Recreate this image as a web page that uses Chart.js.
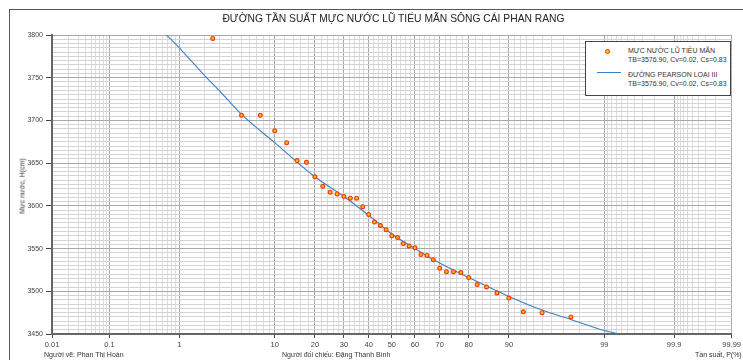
<!DOCTYPE html>
<html>
<head>
<meta charset="utf-8">
<script src="https://cdn.jsdelivr.net/npm/chart.js@4.4.0/dist/chart.umd.min.js"></script>
<style>
  body { margin: 0; background: #fff; font-family: "Liberation Sans", Arial, sans-serif; color: #333; }
  #wrap { position: relative; width: 743px; height: 360px; overflow: hidden; }
  #frame { position: absolute; left: 9px; top: 9px; width: 800px; height: 400px; border: 1px solid #555; }
  #chart { position: absolute; left: 0; top: 0; }
  .txt { position: absolute; white-space: nowrap; }
  #title { left: 0; width: 787px; top: 13px; text-align: center; font-size: 10.3px; color: #222; }
  #ylab { left: 22px; top: 186px; font-size: 7px; transform: translate(-50%, -50%) rotate(-90deg); }
  .foot { top: 351px; font-size: 7px; }
  #legend { position: absolute; left: 585px; top: 41px; width: 144px; height: 53px; border: 1px solid #444; background: #fff; }
  #legend .t { position: absolute; left: 42px; font-size: 7px; line-height: 8.5px; }
  #legend .dot { position: absolute; left: 19px; top: 7px; width: 2.6px; height: 2.6px; border-radius: 50%; background: #ffc000; border: 1.2px solid #f03c10; }
  #legend .ln { position: absolute; left: 11px; top: 30px; width: 24px; height: 1px; background: #3c7fc4; }
</style>
</head>
<body>
<div id="wrap">
  <div id="frame"></div>
  <canvas id="chart" width="743" height="360"></canvas>
  <div class="txt" id="title">ĐƯỜNG TẦN SUẤT MỰC NƯỚC LŨ TIỂU MÃN SÔNG CÁI PHAN RANG</div>
  <div class="txt" id="ylab">Mực nước, H(cm)</div>
  <div class="txt foot" style="left:44px">Người vẽ: Phan Thị Hoàn</div>
  <div class="txt foot" style="left:282px">Người đối chiếu: Đặng Thanh Bình</div>
  <div class="txt foot" style="left:695px">Tần suất, P(%)</div>
  <div id="legend">
    <span class="dot"></span>
    <div class="t" style="top:5px">MỰC NƯỚC LŨ TIỂU MÃN<br>TB=3576.90, Cv=0.02, Cs=0.83</div>
    <span class="ln"></span>
    <div class="t" style="top:29px">ĐƯỜNG PEARSON LOẠI III<br>TB=3576.90, Cv=0.02, Cs=0.83</div>
  </div>
</div>
<script>
// tần suất kinh nghiệm (%) và mực nước thực đo
const obsP = [2.5, 5, 7.5, 10, 12.5, 15, 17.5, 20, 22.5, 25, 27.5, 30, 32.5, 35, 37.5, 40, 42.5, 45, 47.5, 50,
  52.5, 55, 57.5, 60, 62.5, 65, 67.5, 70, 72.5, 75, 77.5, 80, 82.5, 85, 87.5, 90, 92.5, 95, 97.5];
const obsH = [3796, 3706, 3706, 3688, 3674, 3653, 3651, 3634, 3623, 3616, 3614, 3611, 3609, 3609, 3599, 3590, 3581, 3577, 3572, 3565,
  3563, 3556, 3553, 3551, 3543, 3542, 3537, 3527, 3523, 3523, 3522, 3516, 3508, 3505, 3498, 3492, 3476, 3475, 3470];

// đường Pearson III
const curveP = [0.5, 0.7, 1, 2, 3, 5, 10, 20, 30, 40, 50, 60, 70, 80, 90, 95, 97.5, 99, 99.5];
const curveH = [3809, 3799, 3785, 3753, 3734, 3707, 3674, 3634, 3611, 3589, 3567, 3550, 3533, 3516, 3494, 3478, 3467, 3454, 3448];

// lưới giấy xác suất
const majorP = [0.01, 0.1, 1, 10, 20, 30, 40, 50, 60, 70, 80, 90, 99, 99.9, 99.99];
const minorP = [0.02, 0.03, 0.04, 0.05, 0.06, 0.07, 0.08, 0.09,
  0.2, 0.3, 0.4, 0.5, 0.6, 0.7, 0.8, 0.9,
  2, 3, 4, 5, 6, 7, 8, 9,
  12, 14, 16, 18, 22, 24, 26, 28, 32, 34, 36, 38, 42, 44, 46, 48,
  52, 54, 56, 58, 62, 64, 66, 68, 72, 74, 76, 78, 82, 84, 86, 88,
  91, 92, 93, 94, 95, 96, 97, 98,
  99.1, 99.2, 99.3, 99.4, 99.5, 99.6, 99.7, 99.8,
  99.91, 99.92, 99.93, 99.94, 99.95, 99.96, 99.97, 99.98];

// inverse normal (Acklam)
function normInv(p) {
  const a = [-39.69683028665376, 220.9460984245205, -275.9285104469687, 138.3577518672690, -30.66479806614716, 2.506628277459239];
  const b = [-54.47609879822406, 161.5858368580409, -155.6989798598866, 66.80131188771972, -13.28068155288572];
  const c = [-0.007784894002430293, -0.3223964580411365, -2.400758277161838, -2.549732539343734, 4.374664141464968, 2.938163982698783];
  const d = [0.007784695709041462, 0.3224671290700398, 2.445134137142996, 3.754408661907416];
  const pl = 0.02425;
  let q, r;
  if (p < pl) {
    q = Math.sqrt(-2 * Math.log(p));
    return (((((c[0]*q+c[1])*q+c[2])*q+c[3])*q+c[4])*q+c[5]) / ((((d[0]*q+d[1])*q+d[2])*q+d[3])*q+1);
  }
  if (p > 1 - pl) {
    q = Math.sqrt(-2 * Math.log(1 - p));
    return -(((((c[0]*q+c[1])*q+c[2])*q+c[3])*q+c[4])*q+c[5]) / ((((d[0]*q+d[1])*q+d[2])*q+d[3])*q+1);
  }
  q = p - 0.5; r = q * q;
  return (((((a[0]*r+a[1])*r+a[2])*r+a[3])*r+a[4])*r+a[5])*q / (((((b[0]*r+b[1])*r+b[2])*r+b[3])*r+b[4])*r+1);
}
function normCdf(z) {
  const t = 1 / (1 + 0.2316419 * Math.abs(z));
  const y = 0.3989423 * Math.exp(-z * z / 2) * t * (0.3193815 + t * (-0.3565638 + t * (1.781478 + t * (-1.821256 + t * 1.330274))));
  return z > 0 ? 1 - y : y;
}

class ProbabilityScale extends Chart.Scale {
  determineDataLimits() { this.min = 0.01; this.max = 99.99; }
  buildTicks() {
    return majorP.concat(minorP).sort((a, b) => a - b).map(v => ({ value: v, major: majorP.includes(v) }));
  }
  getLabelForValue(v) { return String(v); }
  configure() {
    super.configure();
    this._z0 = normInv(this.min / 100);
    this._z1 = normInv(this.max / 100);
  }
  getPixelForValue(v) {
    return this.getPixelForDecimal((normInv(v / 100) - this._z0) / (this._z1 - this._z0));
  }
  getValueForPixel(px) {
    const dec = this.getDecimalForPixel(px);
    return normCdf(this._z0 + dec * (this._z1 - this._z0)) * 100;
  }
}
ProbabilityScale.id = 'probability';
ProbabilityScale.defaults = {};
Chart.register(ProbabilityScale);

const isMajorX = v => majorP.includes(v);

new Chart(document.getElementById('chart'), {
  type: 'scatter',
  data: {
    datasets: [
      {
        data: obsP.map((p, i) => ({ x: p, y: obsH[i] })),
        pointRadius: 1.9,
        pointBackgroundColor: '#ffc000',
        pointBorderColor: '#f03c10',
        pointBorderWidth: 1.2,
        order: 0
      },
      {
        data: curveP.map((p, i) => ({ x: p, y: curveH[i] })),
        showLine: true,
        borderColor: '#3c7fc4',
        borderWidth: 1.1,
        pointRadius: 0,
        cubicInterpolationMode: 'monotone',
        order: 1
      }
    ]
  },
  options: {
    responsive: false,
    animation: false,
    layout: { padding: { left: 0, right: 8, top: 35, bottom: 0 } },
    plugins: { legend: { display: false }, tooltip: { enabled: false } },
    scales: {
      x: {
        type: 'probability',
        position: 'bottom',
        afterFit: s => { s.height = 26; },
        border: { color: '#666', width: 2 },
        grid: {
          color: c => isMajorX(c.tick.value) ? '#a9a9a9' : '#dcdcdc',
          tickColor: c => isMajorX(c.tick.value) ? '#444' : 'rgba(0,0,0,0)',
          tickLength: 4
        },
        ticks: {
          autoSkip: false, maxRotation: 0, padding: 2,
          color: '#444', font: { family: 'Liberation Sans', size: 7.5 },
          callback: v => isMajorX(v) ? String(v) : ''
        }
      },
      y: {
        min: 3450, max: 3800,
        afterFit: s => { s.width = 52; },
        border: { color: '#666', width: 2 },
        grid: {
          color: c => c.tick.value % 50 === 0 ? '#a9a9a9' : '#d3d3d3',
          tickColor: c => c.tick.value % 50 === 0 ? '#444' : 'rgba(0,0,0,0)',
          tickLength: 6
        },
        ticks: {
          stepSize: 5, autoSkip: false, padding: 3,
          color: '#444', font: { family: 'Liberation Sans', size: 7 },
          callback: v => v % 50 === 0 ? String(v) : ''
        }
      }
    }
  }
});
</script>
</body>
</html>
